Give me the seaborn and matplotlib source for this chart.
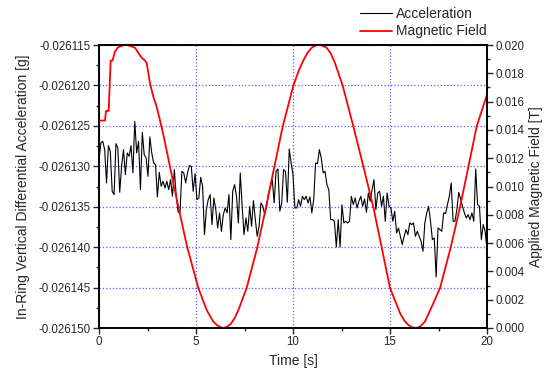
import matplotlib
matplotlib.use("Agg")
import matplotlib.pyplot as plt
import numpy as np
import seaborn as sns
from matplotlib.ticker import FormatStrFormatter, MultipleLocator

# Acceleration samples (g), evenly spaced over 0-20 s
acceleration = [
    -0.02612918, -0.02612711, -0.02612691, -0.02612794, -0.02613206, -0.02612744,
    -0.02612815, -0.02613309, -0.02613350, -0.02612720, -0.02612773, -0.02613322,
    -0.02613000, -0.02612794, -0.02613103, -0.02612835, -0.02612876, -0.02612744,
    -0.02613082, -0.02612444, -0.02612835, -0.02612691, -0.02613289, -0.02612580,
    -0.02612856, -0.02612897, -0.02613124, -0.02612637, -0.02612835, -0.02612959,
    -0.02612979, -0.02613379, -0.02613074, -0.02613247, -0.02613185, -0.02613268,
    -0.02613185, -0.02613289, -0.02613165, -0.02613371, -0.02613041, -0.02613371,
    -0.02613565, -0.02613577, -0.02613062, -0.02613082, -0.02613206, -0.02613082,
    -0.02612992, -0.02613000, -0.02613309, -0.02613091, -0.02613412, -0.02613392,
    -0.02613136, -0.02613247, -0.02613845, -0.02613536, -0.02613412, -0.02613350,
    -0.02613721, -0.02613392, -0.02613536, -0.02613763, -0.02613577, -0.02613804,
    -0.02613598, -0.02613515, -0.02613577, -0.02613350, -0.02613907, -0.02613309,
    -0.02613227, -0.02613371, -0.02613701, -0.02613082, -0.02613495, -0.02613845,
    -0.02613639, -0.02613804, -0.02613495, -0.02613742, -0.02613425, -0.02613660,
    -0.02613866, -0.02613742, -0.02613453, -0.02613495, -0.02613598, -0.02613495,
    -0.02613330, -0.02613247, -0.02613165, -0.02613453, -0.02613062, -0.02613033,
    -0.02613556, -0.02613453, -0.02613041, -0.02613062, -0.02613445, -0.02612786,
    -0.02612959, -0.02613103, -0.02613515, -0.02613515, -0.02613412, -0.02613495,
    -0.02613371, -0.02613412, -0.02613371, -0.02613453, -0.02613379, -0.02613577,
    -0.02613412, -0.02612959, -0.02612967, -0.02612794, -0.02612897, -0.02613082,
    -0.02613062, -0.02613227, -0.02613289, -0.02613660, -0.02613660, -0.02613680,
    -0.02613998, -0.02613660, -0.02613998, -0.02613474, -0.02613701, -0.02613680,
    -0.02613701, -0.02613680, -0.02613371, -0.02613474, -0.02613392, -0.02613515,
    -0.02613433, -0.02613371, -0.02613495, -0.02613404, -0.02613569, -0.02613330,
    -0.02613433, -0.02613289, -0.02613165, -0.02613536, -0.02613330, -0.02613309,
    -0.02613495, -0.02613371, -0.02613680, -0.02613330, -0.02613495, -0.02613515,
    -0.02613680, -0.02613556, -0.02613824, -0.02613763, -0.02613866, -0.02613969,
    -0.02613866, -0.02613783, -0.02613845, -0.02613701, -0.02613721, -0.02613701,
    -0.02613866, -0.02613804, -0.02613866, -0.02613927, -0.02614051, -0.02613701,
    -0.02613577, -0.02613495, -0.02613680, -0.02613907, -0.02613886, -0.02614369,
    -0.02613763, -0.02613783, -0.02613804, -0.02613577, -0.02613585, -0.02613474,
    -0.02613371, -0.02613206, -0.02613680, -0.02613680, -0.02613536, -0.02613322,
    -0.02613404, -0.02613495, -0.02613577, -0.02613639, -0.02613598, -0.02613660,
    -0.02613577, -0.02613680, -0.02613033, -0.02613474, -0.02613495, -0.02613907,
    -0.02613721, -0.02613804, -0.02614031,
]
acc_time = np.linspace(0, 20, len(acceleration))

# Magnetic field (T)
field_time = [
    0.0, 0.31, 0.36, 0.50, 0.60, 0.70, 0.82, 0.99, 1.25, 1.43, 1.68, 1.86,
    2.03, 2.20, 2.37, 2.46, 2.63, 2.80, 2.97, 3.14, 3.32, 3.66, 4.09, 4.55,
    5.12, 5.55, 5.89, 6.10, 6.37, 6.60, 6.80, 7.00, 7.18, 7.61, 8.16, 8.61,
    9.04, 9.47, 10.02, 10.30, 10.53, 10.75, 10.96, 11.15, 11.31, 11.50, 11.74,
    11.95, 12.17, 12.56, 13.11, 13.63, 14.14, 14.57, 15.00, 15.52, 15.75, 15.95,
    16.15, 16.34, 16.55, 16.80, 17.23, 17.58, 18.13, 18.61, 19.04, 19.47, 20.00,
]
field = [
    0.01466, 0.01466, 0.01534, 0.01534, 0.01889, 0.01890, 0.01953, 0.01984,
    0.01998, 0.02000, 0.01990, 0.01980, 0.01943, 0.01910, 0.01890, 0.01870,
    0.01729, 0.01635, 0.01564, 0.01470, 0.01364, 0.01140, 0.00855, 0.00570,
    0.00283, 0.00127, 0.00045, 0.00018, 0.00000, 0.00008, 0.00030, 0.00072,
    0.00125, 0.00283, 0.00570, 0.00855, 0.01140, 0.01425, 0.01713, 0.01820,
    0.01890, 0.01945, 0.01980, 0.01996, 0.02000, 0.01996, 0.01980, 0.01940,
    0.01870, 0.01713, 0.01425, 0.01140, 0.00855, 0.00570, 0.00283, 0.00104,
    0.00050, 0.00021, 0.00005, 0.00000, 0.00010, 0.00045, 0.00174, 0.00283,
    0.00570, 0.00855, 0.01140, 0.01425, 0.01650,
]

sns.set_style("ticks")
plt.rcParams['font.family'] = ['Liberation Sans', 'DejaVu Sans']

fig = plt.figure(figsize=(5.45, 3.76), dpi=100)
ax = fig.add_axes([99 / 545, 1 - 328 / 376, 388 / 545, 283 / 376])
ax2 = ax.twinx()

sns.lineplot(x=acc_time, y=acceleration, ax=ax, color='black', linewidth=0.8,
             estimator=None, label='Acceleration', legend=False)
sns.lineplot(x=field_time, y=field, ax=ax2, color='red', linewidth=1.3,
             estimator=None, label='Magnetic Field', legend=False)

ax.set_xlim(0, 20)
ax.set_ylim(-0.026150, -0.026115)
ax2.set_ylim(0, 0.020)

ax.xaxis.set_major_locator(MultipleLocator(5))
ax.xaxis.set_minor_locator(MultipleLocator(2.5))
ax.yaxis.set_major_locator(MultipleLocator(0.000005))
ax.yaxis.set_minor_locator(MultipleLocator(0.0000025))
ax.yaxis.set_major_formatter(FormatStrFormatter('%.6f'))
ax2.yaxis.set_major_locator(MultipleLocator(0.002))
ax2.yaxis.set_minor_locator(MultipleLocator(0.001))
ax2.yaxis.set_major_formatter(FormatStrFormatter('%.3f'))

for a in (ax, ax2):
    a.tick_params(which='major', direction='out', length=4, width=1, labelsize=8.3, pad=2)
    a.tick_params(which='minor', direction='out', length=2.3, width=1)
    for s in a.spines.values():
        s.set_linewidth(1.2)
        s.set_color('black')

ax.grid(True, which='major', color='#3333ff', linestyle=':', linewidth=0.9, alpha=0.8)

ax.set_xlabel('Time [s]', fontsize=10, labelpad=4)
ax.set_ylabel('In-Ring Vertical Differential Acceleration [g]', fontsize=10, labelpad=6)
ax2.set_ylabel('Applied Magnetic Field [T]', fontsize=10, labelpad=3)

handles = ax.get_lines()[:1] + ax2.get_lines()[:1]
fig.legend(handles, ['Acceleration', 'Magnetic Field'], loc='upper right',
           bbox_to_anchor=(487 / 545, 1 - 7 / 376), frameon=False, fontsize=10,
           handlelength=2.3, handletextpad=0.3, labelspacing=0.25,
           borderpad=0, borderaxespad=0)

fig.savefig('out.png', dpi=100)
